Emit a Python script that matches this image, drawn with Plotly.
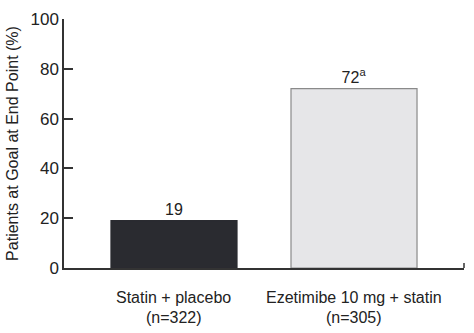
import plotly.graph_objects as go

# Treatment groups and share of patients reaching LDL-C goal
groups = ["Statin + placebo", "Ezetimibe 10 mg + statin"]
n_patients = [322, 305]
at_goal_pct = [19, 72]
label_marks = ["", "<sup>a</sup>"]
y_ticks = [0, 20, 40, 60, 80, 100]

bar_fill = ["#2a2b30", "#e6e6e8"]
bar_edge = ["#2a2b30", "#8a8a8a"]
axis_col = "#333333"
text_col = "#222222"
font_family = "Liberation Sans, Arial, Helvetica, sans-serif"

xpos = list(range(len(groups)))

fig = go.Figure(
    go.Bar(
        x=xpos,
        y=at_goal_pct,
        width=0.7,
        marker=dict(color=bar_fill, line=dict(color=bar_edge, width=1.2)),
        text=[f"{v}{m}" for v, m in zip(at_goal_pct, label_marks)],
        textposition="outside",
        textfont=dict(size=16, color=text_col, family=font_family),
        cliponaxis=False,
        hoverinfo="skip",
    )
)

# Two-line category labels: group name, then group size
for xi, name, n in zip(xpos, groups, n_patients):
    fig.add_annotation(
        x=xi, xref="x", y=0, yref="paper",
        text=name, showarrow=False,
        yanchor="middle", yshift=-29,
        font=dict(size=16, color=text_col, family=font_family),
    )
    fig.add_annotation(
        x=xi, xref="x", y=0, yref="paper",
        text=f"(n={n})", showarrow=False,
        yanchor="middle", yshift=-49,
        font=dict(size=16, color=text_col, family=font_family),
    )

# Small end mark on the right of the baseline
fig.add_shape(
    type="line", xref="paper", yref="y",
    x0=1, x1=1, y0=0, y1=2,
    line=dict(color=axis_col, width=1.5),
)

fig.update_layout(
    width=474,
    height=333,
    margin=dict(l=64, r=10, t=19, b=65),
    paper_bgcolor="white",
    plot_bgcolor="white",
    showlegend=False,
    font=dict(family=font_family, size=16, color=text_col),
    xaxis=dict(
        range=[-0.611, 1.611],
        tickvals=xpos,
        showticklabels=False,
        ticks="",
        showline=True,
        linecolor=axis_col,
        linewidth=1.5,
        showgrid=False,
        zeroline=False,
        automargin=False,
    ),
    yaxis=dict(
        range=[0, 100],
        tickvals=y_ticks,
        ticks="inside",
        ticklen=9,
        tickwidth=1.5,
        tickcolor=axis_col,
        showline=True,
        linecolor=axis_col,
        linewidth=1.5,
        showgrid=False,
        zeroline=False,
        automargin=False,
        tickfont=dict(size=17, color=text_col),
        title=dict(
            text="Patients at Goal at End Point (%)",
            font=dict(size=16, color=text_col),
            standoff=8,
        ),
    ),
)

fig.write_html("out.html")
